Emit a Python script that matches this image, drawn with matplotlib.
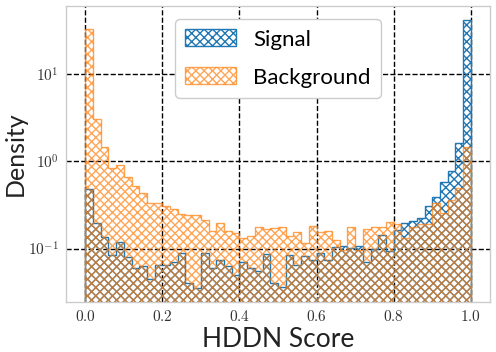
import matplotlib
matplotlib.use("Agg")
import matplotlib.pyplot as plt
import numpy as np
from matplotlib.ticker import FuncFormatter, FixedLocator

# 50 bins on [0, 1], density values
bin_edges = np.linspace(0.0, 1.0, 51)

signal_density = [
    0.477, 0.198, 0.136, 0.084, 0.119, 0.079, 0.0605, 0.063, 0.0453, 0.0647,
    0.0647, 0.070, 0.088, 0.040, 0.0357, 0.088, 0.0593, 0.0738, 0.063, 0.0497,
    0.070, 0.0597, 0.056, 0.087, 0.040, 0.0359, 0.084, 0.0647, 0.082, 0.0738,
    0.088, 0.073, 0.103, 0.107, 0.102, 0.107, 0.0706, 0.100, 0.143, 0.094,
    0.163, 0.194, 0.209, 0.226, 0.307, 0.393, 0.583, 0.78, 1.63, 41.6,
]
background_density = [
    32.5, 3.03, 1.46, 0.84, 0.90, 0.665, 0.525, 0.43, 0.33, 0.33,
    0.31, 0.28, 0.25, 0.245, 0.24, 0.212, 0.158, 0.194, 0.158, 0.149,
    0.131, 0.139, 0.178, 0.166, 0.17, 0.175, 0.139, 0.156, 0.115, 0.181,
    0.155, 0.158, 0.125, 0.096, 0.175, 0.096, 0.166, 0.178, 0.175, 0.203,
    0.189, 0.131, 0.178, 0.191, 0.191, 0.33, 0.253, 0.36, 0.49, 1.47,
]

x_ticks = [0.0, 0.2, 0.4, 0.6, 0.8, 1.0]
y_ticks = [0.1, 1.0, 10.0]

plt.rcParams["mathtext.fontset"] = "cm"
plt.rcParams["hatch.linewidth"] = 1.0

fig = plt.figure(figsize=(4.96, 3.52), dpi=100)
ax = fig.add_axes([0.133, 0.142, 0.855, 0.841])

centers = 0.5 * (bin_edges[:-1] + bin_edges[1:])
ax.hist(centers, bins=bin_edges, weights=signal_density, histtype="step",
        color="#1f77b4", hatch="xxxx", linewidth=1.0, label="Signal", zorder=2)
ax.hist(centers, bins=bin_edges, weights=background_density, histtype="step",
        color="#ff7f0e", hatch="xxxx", linewidth=1.0, alpha=0.7,
        label="Background", zorder=3)

ax.set_yscale("log")
ax.set_xlim(-0.05, 1.05)
ax.set_ylim(0.0244, 60)

ax.xaxis.set_major_locator(FixedLocator(x_ticks))
ax.xaxis.set_major_formatter(FuncFormatter(lambda v, _: f"${v:.1f}$"))
ax.yaxis.set_major_locator(FixedLocator(y_ticks))
ax.yaxis.set_minor_locator(FixedLocator([]))
ax.yaxis.set_major_formatter(FuncFormatter(lambda v, _: r"$10^{%d}$" % round(np.log10(v))))
ax.tick_params(axis="both", which="both", length=0, labelsize=11, colors="#333333", pad=5)

ax.grid(True, color="black", linestyle="--", linewidth=1.0, zorder=0)
ax.set_axisbelow(True)
for side in ax.spines.values():
    side.set_color("#cccccc")
    side.set_linewidth(1.0)

ax.set_xlabel("HDDN Score", fontsize=19, family="Lato", color="#222222", labelpad=2)
ax.set_ylabel("Density", fontsize=18, family="Lato", color="#222222", labelpad=1)

leg = ax.legend(loc="upper center", prop={"family": "Lato", "size": 16},
                frameon=True, fancybox=True, handlelength=2.3, handleheight=0.8,
                borderpad=0.45, labelspacing=0.8, borderaxespad=0.6,
                handletextpad=0.75, framealpha=1.0)
leg.get_frame().set_edgecolor("#cccccc")

fig.savefig("out.png", dpi=100)
